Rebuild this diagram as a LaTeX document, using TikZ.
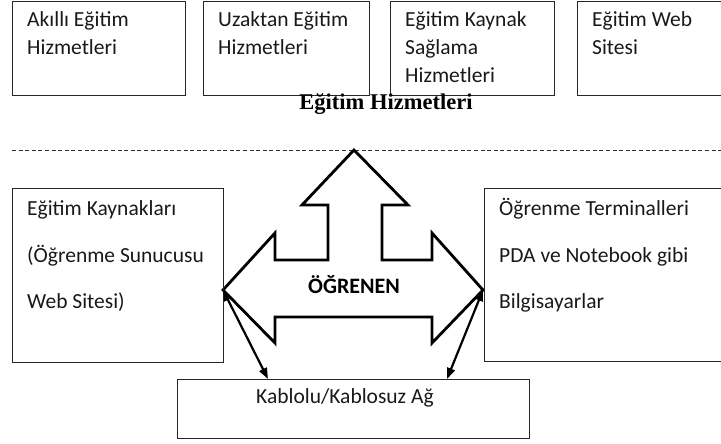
\documentclass[tikz,border=0pt]{standalone}
\usepackage{fontspec}
\setmainfont{Carlito}
\newfontfamily\titlefont{Liberation Serif}
\usetikzlibrary{arrows.meta}

\begin{document}
\begin{tikzpicture}[x=1pt,y=-1pt,
  box/.style={draw=black!85,line width=1.2pt,inner sep=0pt,anchor=north west},
  txt/.style={anchor=base west,inner sep=0pt,font=\fontsize{21.5}{26}\selectfont,text=black!90},
  bigarrow/.style={draw=black,fill=white,line width=2.8pt,line join=miter},
  link/.style={line width=2.2pt,{Triangle[length=11pt,width=8pt]}-{Triangle[length=11pt,width=8pt]}},
  sep/.style={line width=0.8pt,dash pattern=on 4pt off 2.6pt,draw=black!80}]
\useasboundingbox (0,0) rectangle (721,444);
\clip (0,0) rectangle (721,444);

% services row
\node[box,minimum width=173pt,minimum height=94pt] (s1) at (12,1) {};
\node[box,minimum width=166pt,minimum height=94pt] (s2) at (203,1) {};
\node[box,minimum width=164pt,minimum height=94pt] (s3) at (390,1) {};
\node[box,minimum width=170pt,minimum height=94pt] (s4) at (577,1) {};

\node[txt] (s1a) at (27,27) {Akıllı Eğitim};
\node[txt] (s1b) at (27,55) {Hizmetleri};
\node[txt] (s2a) at (218,27) {Uzaktan Eğitim};
\node[txt] (s2b) at (218,55) {Hizmetleri};
\node[txt] (s3a) at (405,27) {Eğitim Kaynak};
\node[txt] (s3b) at (405,55) {Sağlama};
\node[txt] (s3c) at (405,83) {Hizmetleri};
\node[txt] (s4a) at (592,27) {Eğitim Web};
\node[txt] (s4b) at (592,55) {Sitesi};

\node[anchor=base,inner sep=0pt,font=\titlefont\bfseries\fontsize{22.5}{26}\selectfont] (title) at (386,110) {Eğitim Hizmetleri};

% separator
\coordinate (sepL) at (12,150);
\coordinate (sepR) at (721,150);
\draw[sep] (sepL) -- (sepR);

% learner arrow: up, left and right
\coordinate (up) at (354,150);
\coordinate (Ltip) at (223,290);
\coordinate (Rtip) at (483,290);
\draw[bigarrow] (up) -- (408,205) -- (382,205) -- (382,260) -- (432,260) -- (432,233)
  -- (Rtip) -- (432,343) -- (432,317) -- (275,317) -- (275,343) -- (Ltip)
  -- (275,233) -- (275,260) -- (328,260) -- (328,205) -- (302,205) -- cycle;
\node[anchor=base,inner sep=0pt,font=\bfseries\fontsize{22}{26}\selectfont] (learner) at (354,293) {ÖĞRENEN};

% resources and terminals
\node[box,minimum width=211pt,minimum height=174pt] (res) at (12,188) {};
\node[txt] (res1) at (27,215) {Eğitim Kaynakları};
\node[txt] (res2) at (27,262) {(Öğrenme Sunucusu};
\node[txt] (res3) at (27,308) {Web Sitesi)};

\node[box,minimum width=250pt,minimum height=173pt] (term) at (484,188) {};
\node[txt] (term1) at (499,215) {Öğrenme Terminalleri};
\node[txt] (term2) at (499,262) {PDA ve Notebook gibi};
\node[txt] (term3) at (499,308) {Bilgisayarlar};

% network
\node[box,minimum width=352pt,minimum height=59pt] (net) at (177,379) {};
\node[txt] (net1) at (256,403) {Kablolu/Kablosuz Ağ};

\coordinate (Lnet) at (268,379);
\coordinate (Rnet) at (447,379);
\draw[link] (Ltip) -- (Lnet);
\draw[link] (Rtip) -- (Rnet);
\end{tikzpicture}
\end{document}
